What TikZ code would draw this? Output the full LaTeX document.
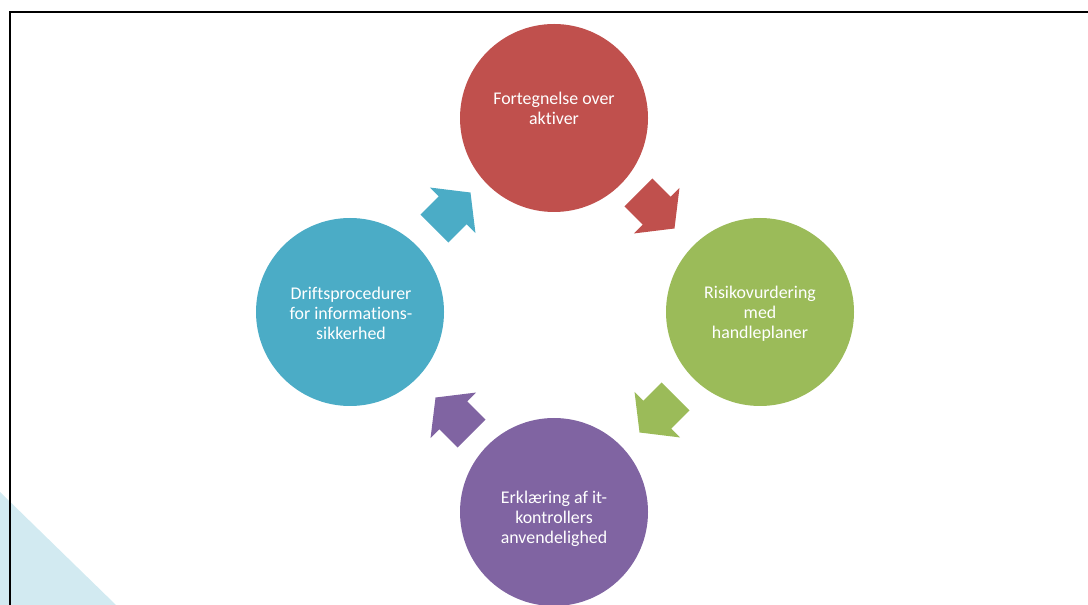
\documentclass[tikz,border=0pt]{standalone}
\usepackage{fontspec}
\setmainfont{Carlito}[Ligatures=NoCommon]
\usetikzlibrary{shapes.arrows}
\definecolor{cred}{HTML}{C0504D}
\definecolor{cgreen}{HTML}{9BBB59}
\definecolor{cpurple}{HTML}{8064A2}
\definecolor{cblue}{HTML}{4BACC6}
\definecolor{cpale}{HTML}{D2EAF1}
\tikzset{
	proc/.style={circle, minimum size=141pt, inner sep=0pt},
	txt/.style={text=white, align=center, inner sep=0pt, font=\fontsize{13.4}{15}\selectfont},
	arr/.style={single arrow, minimum height=38.25pt, inner xsep=0pt, inner ysep=14.6pt,
		single arrow head extend=9.4pt, single arrow tip angle=104},
}
\begin{document}
\begin{tikzpicture}[x=0.75pt,y=-0.75pt]
			\useasboundingbox (0,0) rectangle (1088,605);
			\fill[cpale] (0,492) -- (116,605) -- (0,605) -- cycle;
			\draw[line width=1.5pt] (1088,12.5) -- (10,12.5) -- (10,605);
			\node[proc, fill=cred] (fortegnelse) at (554,118) {};
			\node[proc, fill=cgreen] (risiko) at (760,312) {};
			\node[proc, fill=cpurple] (erklaering) at (554,512) {};
			\node[proc, fill=cblue] (drift) at (350,312) {};
			\node[txt] (fortegnelse-t) at (554,108) {Fortegnelse over\\aktiver};
			\node[txt] (risiko-t) at (760,314) {Risikovurdering\\med\\handleplaner};
			\node[txt] (erklaering-t) at (554,519) {Erklæring af it-\\kontrollers\\anvendelighed};
			\node[txt] (drift-t) at (351,313) {Driftsprocedurer\\for informations-\\sikkerhed};
			\node[arr, fill=cred, rotate=-45] (a1) at (651,205) {};
			\node[arr, fill=cgreen, rotate=-135] (a2) at (663,409) {};
			\node[arr, fill=cpurple, rotate=135] (a3) at (459,421) {};
			\node[arr, fill=cblue, rotate=45] (a4) at (447,216) {};
		\end{tikzpicture}
\end{document}
